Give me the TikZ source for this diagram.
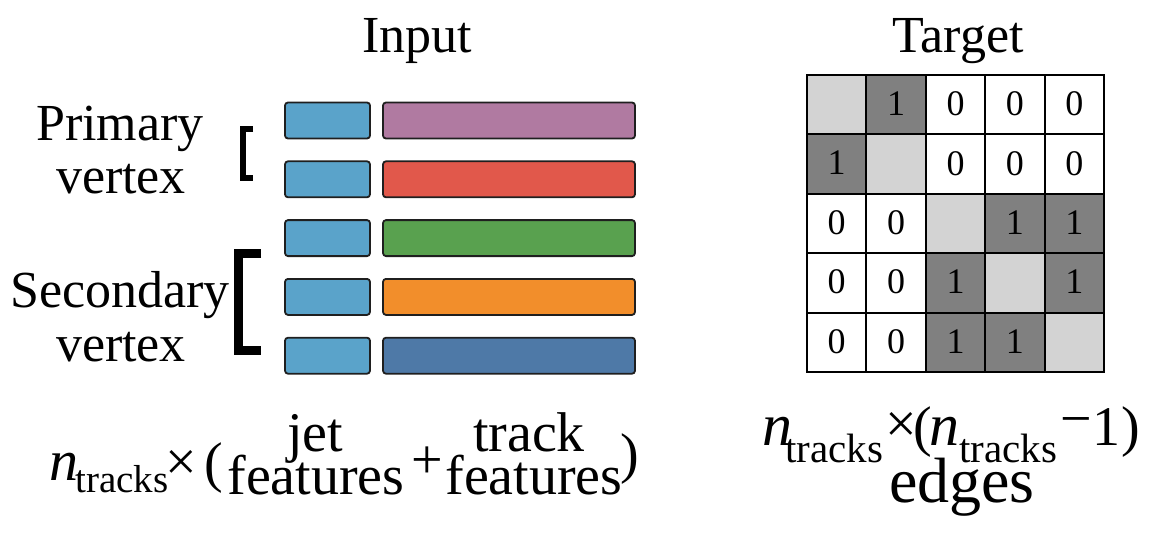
\documentclass[tikz,border=0pt]{standalone}
\usepackage{fontspec}
\setmainfont{Liberation Serif}
\usetikzlibrary{positioning}
\definecolor{jetc}{HTML}{5AA3CA}
\definecolor{trk1}{HTML}{B07AA1}
\definecolor{trk2}{HTML}{E1584B}
\definecolor{trk3}{HTML}{59A14F}
\definecolor{trk4}{HTML}{F28E2B}
\definecolor{trk5}{HTML}{4E79A7}
\definecolor{fl}{HTML}{D3D3D3}
\definecolor{fg}{HTML}{808080}
\definecolor{fw}{HTML}{FFFFFF}
\tikzset{
  big/.style={font=\fontsize{52}{56}\selectfont,inner sep=0pt},
  eq/.style={font=\fontsize{56}{60}\selectfont,inner sep=0pt},
  eqi/.style={font=\fontsize{58}{60}\itshape,inner sep=0pt},
  sml/.style={font=\fontsize{39}{42}\selectfont,inner sep=0pt},
  bar/.style={draw=black!88,line width=1.8pt,rounded corners=3pt,minimum height=36pt,inner sep=0pt},
  jetb/.style={bar,fill=jetc,minimum width=85pt},
  trkb/.style={bar,minimum width=252pt},
  brk/.style={draw=black,line cap=butt,line join=miter},
  cell/.style={draw=black,line width=2pt,minimum size=59.4pt,inner sep=0pt,
    font=\fontsize{36}{38}\selectfont},
}
\begin{document}
\begin{tikzpicture}[x=1pt,y=-1pt]
\useasboundingbox (0,0) rectangle (1162,533);
% titles
\node[big,anchor=base] (tin) at (417,52) {Input};
\node[big,anchor=base] (ttg) at (958,52) {Target};
% vertex labels and their brackets
\node[big,anchor=base] (pv1) at (120,140) {Primary};
\node[big,anchor=base] (pv2) at (121,193) {vertex};
\node[big,anchor=base] (sv1) at (120,307) {Secondary};
\node[big,anchor=base] (sv2) at (121,361) {vertex};
\draw[brk,line width=6pt] (253,129) -- (243,129) -- (243,178) -- (253,178);
\draw[brk,line width=9pt] (261,253) -- (238,253) -- (238,350) -- (261,350);
% one row per track: jet features, then track features
\foreach \col [count=\i] in {trk1,trk2,trk3,trk4,trk5}{
  \node[jetb] (jet\i) at (327.5,{120.5+58.8*(\i-1)}) {};
  \node[trkb,fill=\col] (trk\i) at (509,{120.5+58.8*(\i-1)}) {};
}
% adjacency target
\foreach \row [count=\r] in {{l/,g/1,w/0,w/0,w/0},{g/1,l/,w/0,w/0,w/0},
    {w/0,w/0,l/,g/1,g/1},{w/0,w/0,g/1,l/,g/1},{w/0,w/0,g/1,g/1,l/}}{
  \foreach \s/\t [count=\c] in \row{
    \node[cell,fill=f\s] (m\r\c) at ({807+(\c-0.5)*59.4},{75+(\r-0.5)*59.4})
      {\raisebox{2pt}{\t}};
  }
}
% input size
\node[eqi,anchor=base] (ln) at (64,480) {n};
\node[sml,anchor=base] (lnt) at (122,492) {tracks};
\node[eq] (lx) at (181,465) {×};
\node[eq] (lo) at (214,468) {(};
\node[eq,anchor=base] (jf1) at (315,451) {jet};
\node[eq,anchor=base] (jf2) at (316,494) {features};
\node[eq] (lp) at (427,463) {+};
\node[eq,anchor=base] (tf1) at (529,451) {track};
\node[eq,anchor=base] (tf2) at (534,494) {features};
\node[eq] (lc) at (630,459) {)};
% target size
\node[eqi,anchor=base,font=\fontsize{60}{62}\itshape] (rn1) at (777,445) {n};
\node[sml,anchor=base,font=\fontsize{41}{44}\selectfont] (rt1) at (834,462) {tracks};
\node[eq] (rx) at (901,427) {×};
\node[eq] (ro) at (923,432) {(};
\node[eqi,anchor=base,font=\fontsize{60}{62}\itshape] (rn2) at (944,445) {n};
\node[sml,anchor=base,font=\fontsize{41}{44}\selectfont] (rt2) at (1008,462) {tracks};
\node[eq] (rm) at (1076,427) {−};
\node[eq,anchor=base] (r1) at (1106,445) {1};
\node[eq] (rc) at (1131,432) {)};
\node[eq,anchor=base,font=\fontsize{64}{66}\selectfont] (red) at (962,502) {edges};
\end{tikzpicture}
\end{document}
